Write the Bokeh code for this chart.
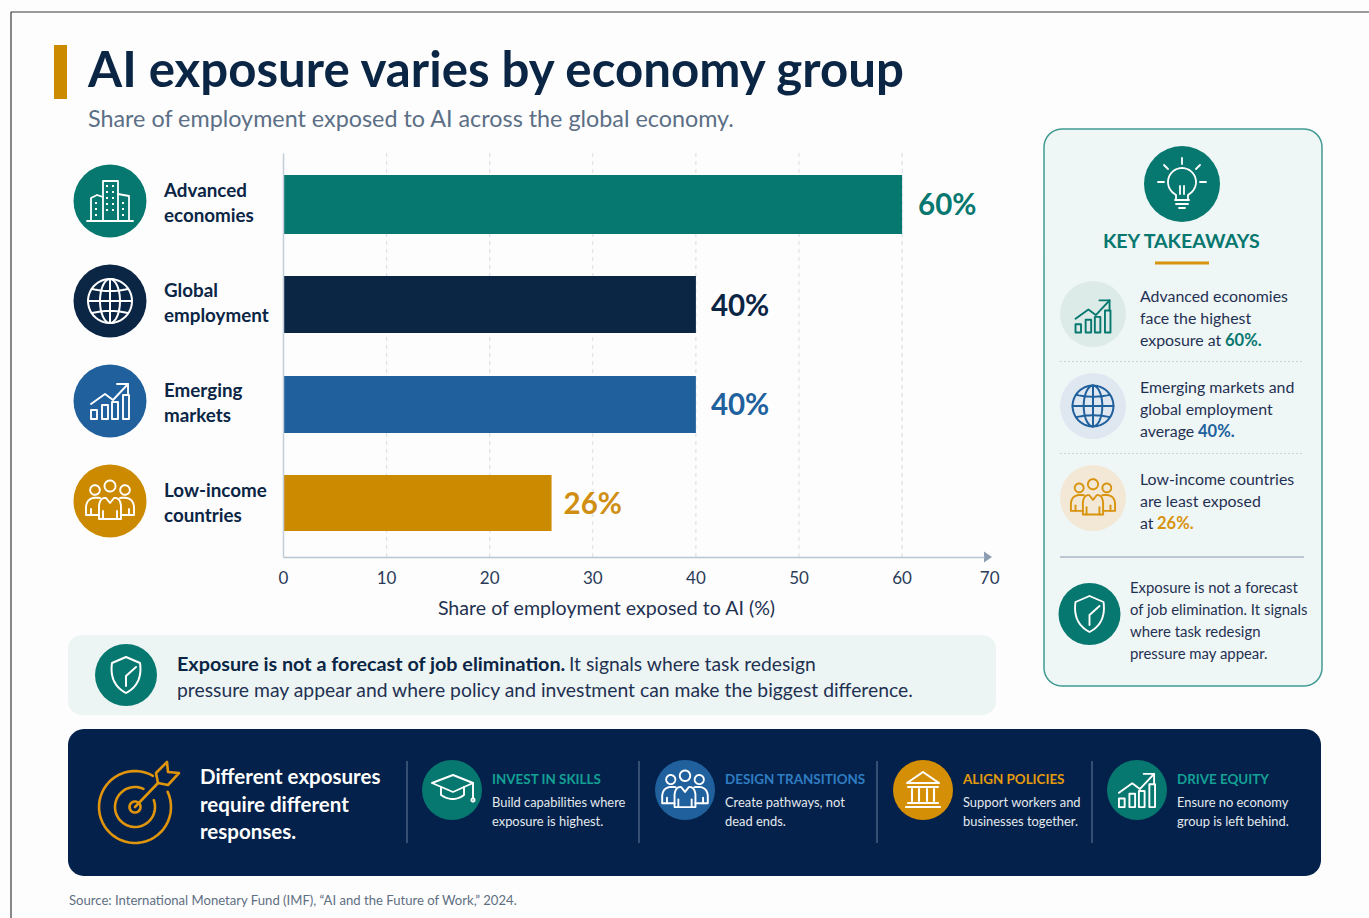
import numpy as np
from bokeh.core.properties import value
from bokeh.embed import file_html
from bokeh.models import ColumnDataSource, FixedTicker, LinearAxis, Range1d
from bokeh.plotting import figure
from bokeh.resources import INLINE

# ---- chart data ----
categories = ["Advanced economies", "Global employment", "Emerging markets", "Low-income countries"]
shares = [60, 40, 40, 26]
value_labels = ["60%", "40%", "40%", "26%"]
axis_ticks = [0, 10, 20, 30, 40, 50, 60, 68.5]
axis_tick_labels = ["0", "10", "20", "30", "40", "50", "60", "70"]

# ---- palette ----
TEAL = "#07786f"
NAVY = "#0b2545"
BLUE = "#20619d"
GOLD = "#cc8a00"
BANNER = "#03214a"
INK = "#1f3152"
bar_colors = [TEAL, NAVY, BLUE, GOLD]
value_colors = [TEAL, NAVY, BLUE, "#d08f12"]

# ---- layout: the page itself is the default coordinate system, in pixels ----
W, H = 1369, 918
AXIS_X0, PX_PER_POINT, AXIS_Y = 283.5, 10.31, 557
bar_centres = [204.5, 304.5, 404.5, 503]
bar_heights = [59, 57, 57, 56]
label_gaps = [16, 15, 15, 12]
label_lift = [1.5, 0.5, 1.5, 0.5]
FONT = "Lato"
LEFT = 0.5

p = figure(width=W, height=H, x_range=Range1d(LEFT, W + LEFT), y_range=Range1d(H + 0.5, 0.5),
           x_axis_type=None, y_axis_type=None, output_backend="svg",
           toolbar_location=None, min_border=0, outline_line_color=None,
           background_fill_color="#fdfdfd", border_fill_color="#fdfdfd")
p.grid.visible = False
p.extra_x_ranges["share"] = Range1d((LEFT - AXIS_X0) / PX_PER_POINT, (W + LEFT - AXIS_X0) / PX_PER_POINT)


def txt(x, y, s, size, color, bold=False, align="left"):
    p.text([x], [y - 1], text=[s], text_font=value(FONT), text_font_size=f"{size}px",
           text_color=color, text_font_style="bold" if bold else "normal",
           text_baseline="middle", text_align=align)


def round_rect(x0, y0, x1, y1, r, fill, line=None, lw=1.0):
    t = np.linspace(0, np.pi / 2, 12)
    xs = np.concatenate([x1 - r + r * np.sin(t), x1 - r + r * np.cos(t),
                         x0 + r - r * np.sin(t), x0 + r - r * np.cos(t)])
    ys = np.concatenate([y0 + r - r * np.cos(t), y1 - r + r * np.sin(t),
                         y1 - r + r * np.cos(t), y0 + r - r * np.sin(t)])
    p.patch(xs, ys, fill_color=fill, line_color=line, line_width=lw)


def disc(x, y, r, fill):
    p.circle([x], [y], radius=r, fill_color=fill, line_color=None)


def arc(cx, cy, r, a0=0.0, a1=360.0, n=48, ry=None):
    t = np.radians(np.linspace(a0, a1, n))
    return np.c_[cx + r * np.cos(t), cy + (ry if ry else r) * np.sin(t)]


def curve(a, b, c, n=14):
    t = np.linspace(0, 1, n)[:, None]
    a, b, c = np.array(a, float), np.array(b, float), np.array(c, float)
    return (1 - t) ** 2 * a + 2 * t * (1 - t) * b + t ** 2 * c


def stroke(paths, cx, cy, s, color, lw, cap="round"):
    xs = [list(cx + s * np.asarray(q, float)[:, 0]) for q in paths]
    ys = [list(cy + s * np.asarray(q, float)[:, 1]) for q in paths]
    p.multi_line(xs, ys, line_color=color, line_width=lw, line_cap=cap, line_join="round")


# ---- icons, all sketched around their own centre ----
def icon_buildings(cx, cy, color, s=1.0, lw=1.8):
    stroke([[(-23, 20), (23, 20)],
            [(-7, 20), (-7, -20), (8, -20), (8, 20)],
            [(-19, 20), (-19, -3), (-13, -6), (-7, -4)],
            [(8, -7), (19, -5), (19, 20)]], cx, cy, s, color, lw)
    dots = []
    for col in (-3, 3):
        for row in (-15, -9, -3, 3, 9):
            dots.append([(col - 1, row), (col + 1, row)])
    for x_ in (-14, 13):
        for row in (2, 8, 14):
            dots.append([(x_ - 1, row), (x_ + 1, row)])
    stroke(dots, cx, cy, s, color, 2.0, cap="butt")


def icon_globe(cx, cy, color, s=1.0, lw=2.0):
    stroke([arc(0, 0, 22), arc(0, 0, 10, ry=22), [(0, -22), (0, 22)], [(-22, 0), (22, 0)],
            curve((-18, -12), (0, -8), (18, -12)), curve((-18, 12), (0, 8), (18, 12))],
           cx, cy, s, color, lw)


def icon_growth(cx, cy, color, s=1.0, lw=1.9):
    bars = [(-19, -13, 9), (-8, -2, 4), (2, 8, 1), (13, 19, -6)]
    paths = [[(a, 18), (a, t), (b, t), (b, 18), (a, 18)] for a, b, t in bars]
    paths += [[(-19, 3), (-5, -7), (3, -1), (18, -17)], [(7, -17), (18, -17), (18, -6)]]
    stroke(paths, cx, cy, s, color, lw)


def icon_people(cx, cy, color, s=1.0, lw=1.9):
    body = list(curve((-11, 5), (-10, -4), (-4, -3))) + [(0, 2)] + list(curve((4, -3), (10, -4), (11, 5)))
    paths = [arc(0, -15, 5.5), arc(-15, -11, 4.8), arc(15, -11, 4.8),
             [(-11, 18)] + body + [(11, 18), (-11, 18)],
             [(-7, 10), (-7, 18)], [(7, 10), (7, 18)],
             list(curve((-10, -3), (-23, -5), (-24, 6))) + [(-24, 14), (-11, 14)],
             list(curve((10, -3), (23, -5), (24, 6))) + [(24, 14), (11, 14)],
             [(-19, 8), (-19, 14)], [(19, 8), (19, 14)]]
    stroke(paths, cx, cy, s, color, lw)


def icon_shield(cx, cy, color, s=1.0, lw=2.0):
    stroke([[(0, -18), (-14, -12)] + list(curve((-14, -12), (-17, 9), (0, 18))) +
            list(curve((0, 18), (17, 9), (14, -12))) + [(0, -18)],
            [(0, 11), (0, 1), (10, -8)]], cx, cy, s, color, lw)


def icon_bulb(cx, cy, color):
    glow = arc(0, -2, 14, 125, 415)
    stroke([[(-6, 15), (-6, 11)] + [tuple(q) for q in glow] + [(6, 11), (6, 15)],
            [(-7, 16), (7, 16)], [(-6, 20), (6, 20)], [(-3, 24), (3, 24)],
            [(0, -26), (0, -20)], [(-18, -19), (-14, -15)], [(18, -19), (14, -15)],
            [(-24, -2), (-18, -2)], [(18, -2), (24, -2)],
            [(-2, 10), (-2, 2)], [(2, 10), (2, 2)]], cx, cy, 1.0, color, 1.8)


def icon_cap(cx, cy, color):
    stroke([[(-20, -7), (1, -15), (21, -7), (1, 2), (-20, -7)],
            [(-11, -3), (-11, 5)] + list(curve((-11, 5), (1, 13), (12, 5))) + [(12, -3)],
            [(21, -7), (21, 8)], arc(21, 10, 1.6)], cx, cy, 1.0, color, 1.9)


def icon_bank(cx, cy, color):
    stroke([[(0, -18), (-16, -7), (16, -7), (0, -18)], [(-15, -3), (15, -3)],
            [(-15, 13), (15, 13)], [(-17, 17), (17, 17)],
            [(-11, -1), (-11, 11)], [(-4, -1), (-4, 11)], [(4, -1), (4, 11)], [(11, -1), (11, 11)]],
           cx, cy, 1.0, color, 2.1)


def icon_target(cx, cy, color):
    stroke([arc(0, 0, 36, -25, 300), arc(0, 0, 20, -20, 295), arc(0, 0, 5.5),
            [(0, 0), (23, -24)],
            [(23, -24), (21, -34), (32, -45), (33, -35), (44, -34), (33, -22), (23, -24)]],
           cx, cy, 1.0, color, 2.6)


# ---- page furniture ----
p.line([W + 1, 11, 11], [12, 12, H + 1], line_color="#3a3a3a", line_width=1.2)
p.quad(left=[54], right=[67], top=[45], bottom=[99], fill_color=GOLD, line_color=None)
txt(88, 68, "AI exposure varies by economy group", 49.2, NAVY, bold=True)
txt(88, 119, "Share of employment exposed to AI across the global economy.", 23.35, "#5b6f86")

# ---- bar chart: grid, axes, bars ----
p.segment(x0=axis_ticks[1:-1], x1=axis_ticks[1:-1], y0=153, y1=AXIS_Y, x_range_name="share",
          line_color="#d9dfe6", line_width=1.1, line_dash="4 4")
x_axis = LinearAxis(x_range_name="share", fixed_location=AXIS_Y, bounds=(0, 68),
                    ticker=FixedTicker(ticks=axis_ticks),
                    major_label_overrides=dict(zip(axis_ticks, axis_tick_labels)),
                    major_tick_line_color=None, minor_tick_line_color=None,
                    axis_line_color="#b9c5d3", axis_line_width=1.5,
                    major_label_text_font=FONT, major_label_text_font_size="17px",
                    major_label_text_color="#2a3c58", major_label_standoff=8)
p.add_layout(x_axis, "below")
y_axis = LinearAxis(fixed_location=AXIS_X0, bounds=(153, AXIS_Y), ticker=FixedTicker(ticks=[]),
                    major_tick_line_color=None, minor_tick_line_color=None,
                    axis_line_color="#c4ced9", axis_line_width=1.5)
p.add_layout(y_axis, "left")
p.patch([984, 992, 984], [AXIS_Y - 5.5, AXIS_Y, AXIS_Y + 5.5], fill_color="#8c9db0", line_color=None)

bars = ColumnDataSource(dict(category=categories, share=shares, y=bar_centres, h=bar_heights, color=bar_colors))
p.hbar(y="y", height="h", left=0, right="share", fill_color="color", line_color=None,
       source=bars, x_range_name="share")
for share, label, yc, col, gap, lift in zip(shares, value_labels, bar_centres, value_colors, label_gaps, label_lift):
    p.text([share], [yc - lift], text=[label], x_range_name="share", x_offset=gap,
           text_font=value(FONT), text_font_size="29.5px", text_font_style="bold",
           text_color=col, text_baseline="middle", text_align="left")
txt(607, 608, "Share of employment exposed to AI (%)", 19.6, INK, align="center")

# ---- category badges and labels ----
badge_y = [201, 301, 401, 501]
for yc, col in zip(badge_y, bar_colors):
    disc(110, yc, 36.5, col)
icon_buildings(110, badge_y[0], "white")
icon_globe(110, badge_y[1], "white")
icon_growth(110, badge_y[2], "white")
icon_people(110, badge_y[3], "white")
for yc, name in zip(badge_y, categories):
    first, second = name.split(" ")
    txt(164, yc - 11, first, 18.8, NAVY, bold=True)
    txt(164, yc + 14, second, 18.8, NAVY, bold=True)

# ---- note under the chart ----
round_rect(68, 635, 996, 715, 14, "#edf5f4")
disc(126, 675, 31, TEAL)
icon_shield(126, 675, "white")
txt(177, 664, "Exposure is not a forecast of job elimination.", 19.75, NAVY, bold=True)
txt(569, 664, "It signals where task redesign", 19.3, INK)
txt(177, 690, "pressure may appear and where policy and investment can make the biggest difference.", 19.33, INK)

# ---- key takeaways panel ----
round_rect(1044, 129, 1322, 686, 18, "#eff6f6", line="#3f9a93", lw=1.5)
disc(1182, 184, 38, TEAL)
icon_bulb(1182, 184, "white")
txt(1182, 241, "KEY TAKEAWAYS", 19.6, TEAL, bold=True, align="center")
p.line([1155, 1209], [263, 263], line_color="#d8930f", line_width=3)

disc(1093, 314, 33, "#dcebe8")
icon_growth(1093, 316, TEAL, s=0.92)
txt(1140, 296, "Advanced economies", 15.9, INK)
txt(1140, 318, "face the highest", 15.9, INK)
txt(1140, 340, "exposure at", 15.9, INK)
txt(1225, 341, "60%.", 16.5, TEAL, bold=True)
p.line([1060, 1304], [361.5, 361.5], line_color="#c9d4d8", line_width=1, line_dash="2 2")

disc(1093, 406, 33, "#dfe7f1")
icon_globe(1093, 406, BLUE, s=0.93)
txt(1140, 387, "Emerging markets and", 15.9, INK)
txt(1140, 409, "global employment", 15.9, INK)
txt(1140, 431, "average", 15.9, INK)
txt(1198, 432, "40%.", 16.5, BLUE, bold=True)
p.line([1060, 1304], [453.5, 453.5], line_color="#c9d4d8", line_width=1, line_dash="2 2")

disc(1093, 498, 33, "#f3e8d5")
icon_people(1093, 498, "#d8930f", s=0.92)
txt(1140, 479, "Low-income countries", 15.9, INK)
txt(1140, 501, "are least exposed", 15.9, INK)
txt(1140, 523, "at", 15.9, INK)
txt(1157, 524, "26%.", 16.5, "#d8930f", bold=True)
p.line([1060, 1304], [557, 557], line_color="#aab8c6", line_width=1.4)

disc(1089.5, 614, 31, TEAL)
icon_shield(1089.5, 614, "white", lw=1.9)
for yy, line in zip([588, 610, 632, 654], ["Exposure is not a forecast", "of job elimination. It signals",
                                           "where task redesign", "pressure may appear."]):
    txt(1130, yy, line, 14.9, INK)

# ---- responses banner ----
round_rect(68, 729, 1321, 876, 16, BANNER)
icon_target(135, 807, "#e0950c")
for yy, line in zip([777, 805, 832], ["Different exposures", "require different", "responses."]):
    txt(200, yy, line, 20.5, "white", bold=True)
for xx in (407, 639, 877, 1092):
    p.line([xx, xx], [761, 843], line_color="#56708e", line_width=1.2)

item_heads = ["INVEST IN SKILLS", "DESIGN TRANSITIONS", "ALIGN POLICIES", "DRIVE EQUITY"]
item_lines = [("Build capabilities where", "exposure is highest."),
              ("Create pathways, not", "dead ends."),
              ("Support workers and", "businesses together."),
              ("Ensure no economy", "group is left behind.")]
item_x = [452, 685, 923, 1137]
item_fill = [TEAL, BLUE, "#d48f06", TEAL]
item_head_color = ["#14a094", "#2f7dc2", "#e39b0e", "#14a094"]
for xx, head, (l1, l2), fill, hc in zip(item_x, item_heads, item_lines, item_fill, item_head_color):
    disc(xx, 790, 30, fill)
    txt(xx + 40, 780, head, 13.4, hc, bold=True)
    txt(xx + 40, 803, l1, 12.9, "#e4e9ef")
    txt(xx + 40, 822, l2, 12.9, "#e4e9ef")
icon_cap(item_x[0], 790, "white")
icon_people(item_x[1], 790, "white", s=0.95)
icon_bank(item_x[2], 790, "white")
icon_growth(item_x[3], 790, "white", s=0.95)

txt(69, 901, "Source: International Monetary Fund (IMF), \u201cAI and the Future of Work,\u201d 2024.", 13.1, "#5f6f82")

open("out.html", "w").write(file_html(p, INLINE))
